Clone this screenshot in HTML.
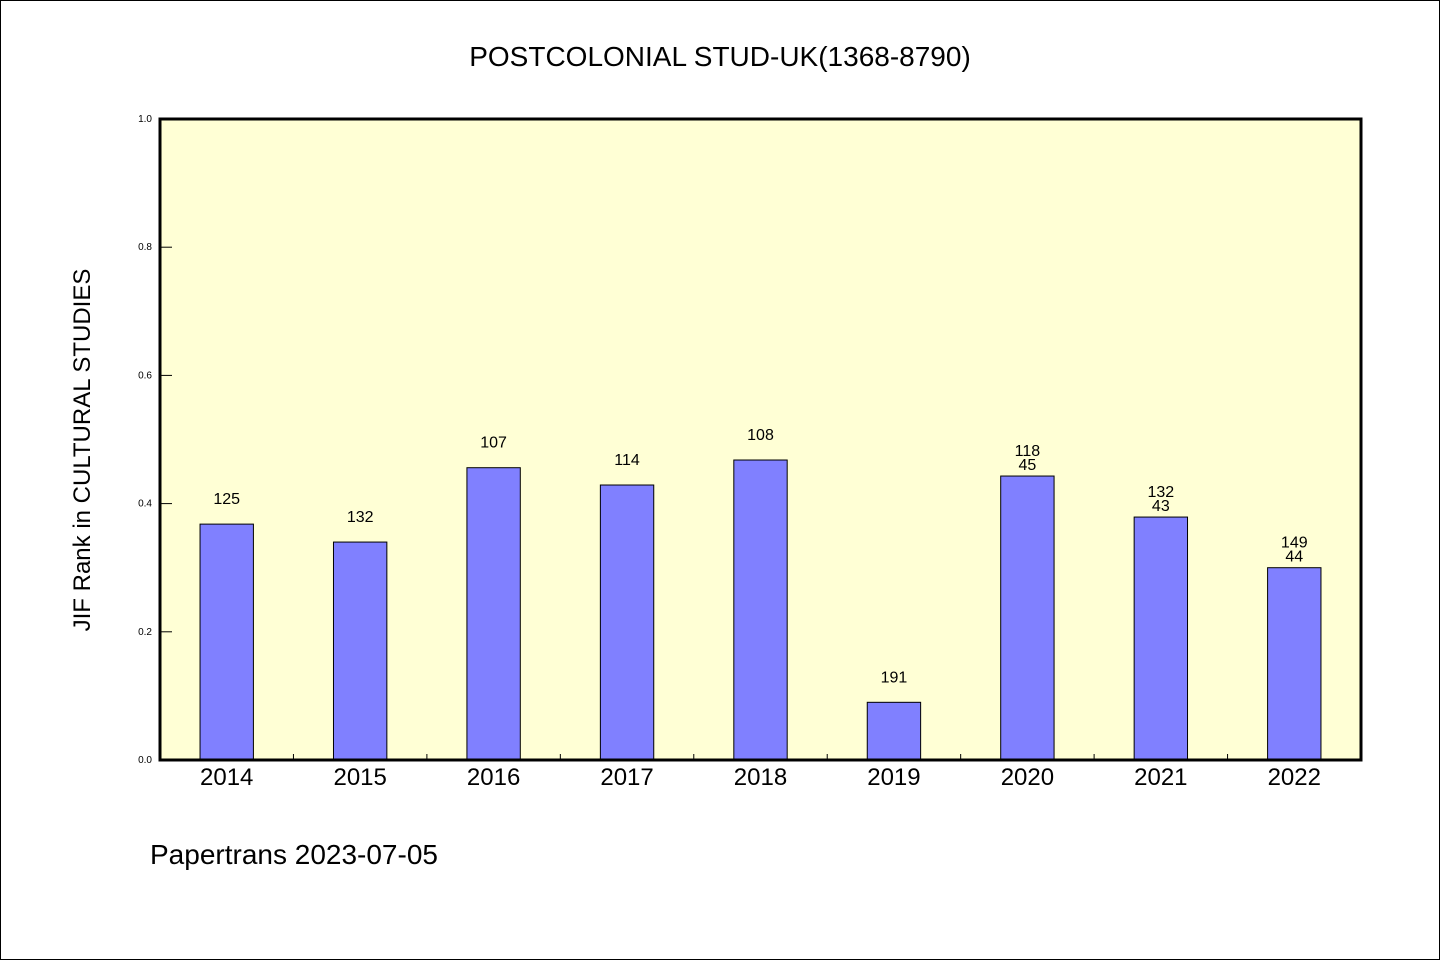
<!DOCTYPE html>
<html><head><meta charset="utf-8"><style>
body{margin:0;background:#fff}
svg text{font-family:"WenQuanYi Zen Hei","Liberation Sans",sans-serif}
</style></head><body>
<svg width="1440" height="960">
<rect x="0.5" y="0.5" width="1439" height="959" fill="#fff" stroke="#000"/>
<text x="720" y="66" font-size="28" text-anchor="middle">POSTCOLONIAL STUD-UK(1368-8790)</text>
<rect x="160" y="119" width="1201" height="641" fill="#ffffd5"/>
<g id="bars"></g>
<g id="ticks"></g>
<rect x="160" y="119" width="1201" height="641" fill="none" stroke="#000" stroke-width="3"/>
<text transform="translate(90,450) rotate(-90)" font-size="24" text-anchor="middle">JIF Rank in CULTURAL STUDIES</text>
<text x="150" y="864" font-size="28">Papertrans 2023-07-05</text>
</svg>
<script>
const categories=["2014","2015","2016","2017","2018","2019","2020","2021","2022"];
const values=[0.368,0.340,0.456,0.429,0.468,0.090,0.443,0.379,0.300];
const labels1=["125","132","107","114","108","191","118","132","149"];
const labels2=["","","","","","","45","43","44"];
const yTicks=[0,0.2,0.4,0.6,0.8,1.0];
const yTickLabels=["0.0","0.2","0.4","0.6","0.8","1.0"];
const NS="http://www.w3.org/2000/svg";
const L=160,R=1361,T=119,B=760,cw=(R-L)/categories.length;
const y=v=>B-v*(B-T);
const x=i=>L+(i+0.5)*cw;
function mk(tag,a,p){const e=document.createElementNS(NS,tag);for(const k in a)e.setAttribute(k,a[k]);p.appendChild(e);return e;}
const bars=document.getElementById('bars'),ticks=document.getElementById('ticks');
categories.forEach((c,i)=>{
 const bw=cw*0.4,yt=y(values[i]);
 const r=mk('rect',{x:x(i)-bw/2,y:yt,width:bw,height:B-yt,fill:'#8080ff',stroke:'#000','stroke-width':1},bars);
 
 
 const t1=mk('text',{x:x(i),y:yt-20,'font-size':16,'text-anchor':'middle'},bars);t1.textContent=labels1[i];
 
 
 if(labels2[i]){const t2=mk('text',{x:x(i),y:yt-6,'font-size':16,'text-anchor':'middle'},bars);t2.textContent=labels2[i];
 
 }
 const xl=mk('text',{x:x(i),y:785,'font-size':24,'text-anchor':'middle'},ticks);xl.textContent=c;
 
 
 if(i>0){const tk=mk('line',{x1:L+i*cw,x2:L+i*cw,y1:B,y2:B-6,stroke:'#000'},ticks);
 
 }
});
yTicks.forEach((v,i)=>{
 const tk=mk('line',{x1:L,x2:L+12,y1:y(v),y2:y(v),stroke:'#000'},ticks);
 
 
 const t=mk('text',{x:152,y:y(v)+3,'font-size':10,'text-anchor':'end','font-family':'DejaVu Sans, sans-serif'},ticks);t.textContent=yTickLabels[i];
 
 
});
</script>
</body></html>
